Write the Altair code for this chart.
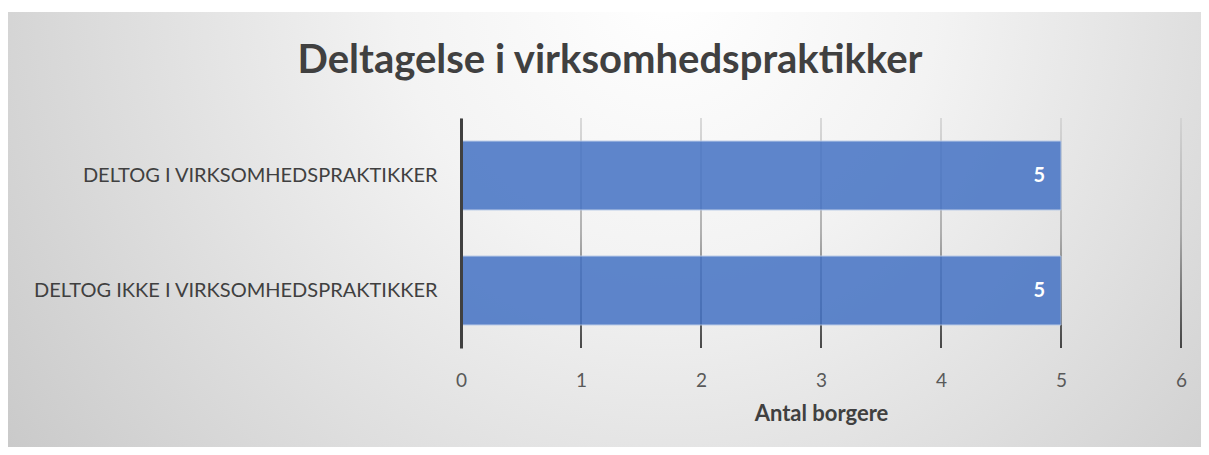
import altair as alt
import pandas as pd

categories = ["DELTOG I VIRKSOMHEDSPRAKTIKKER", "DELTOG IKKE I VIRKSOMHEDSPRAKTIKKER"]
values = [5, 5]
x_ticks = [0, 1, 2, 3, 4, 5, 6]

bars_df = pd.DataFrame({"cat": categories, "value": values})
grid_df = pd.DataFrame({"v": x_ticks})

FONT = "Lato"

x_scale = alt.Scale(domain=[0, 6], nice=False)
y_scale = alt.Scale(paddingInner=0.4, paddingOuter=0.2)

bg = alt.Chart(pd.DataFrame({"a": [0]})).mark_rect(
    color=alt.RadialGradient(
        gradient="radial",
        x1=0.55, y1=0.3, r1=0,
        x2=0.55, y2=0.3, r2=0.75,
        stops=[
            alt.GradientStop(color="#ffffff", offset=0),
            alt.GradientStop(color="#f3f3f3", offset=0.3),
            alt.GradientStop(color="#c2c2c2", offset=1),
        ],
    )
).encode(
    x=alt.value(-455), x2=alt.value(748), y=alt.value(-106), y2=alt.value(335)
)

grid = alt.Chart(grid_df).transform_calculate(
    v2="datum.v + 0.0125"
).mark_rect(
    xOffset=-0.75, x2Offset=-0.75,
    color=alt.LinearGradient(
        gradient="linear", x1=0, y1=0, x2=0, y2=1,
        stops=[
            alt.GradientStop(color="#d0d0d0", offset=0),
            alt.GradientStop(color="#9a9a9a", offset=0.5),
            alt.GradientStop(color="#111111", offset=1),
        ],
    ),
).encode(
    x=alt.X("v:Q", scale=x_scale),
    x2="v2:Q",
    y=alt.value(0),
    y2=alt.value("height"),
)

bars = alt.Chart(bars_df).mark_bar(
    color="#4472C4", opacity=0.85, stroke="#b4c7e7", strokeWidth=1
).encode(
    x=alt.X("value:Q", scale=x_scale,
            axis=alt.Axis(values=x_ticks, format="d", grid=False, ticks=False, domain=False,
                          labelFlush=False,
                          labelFont=FONT, labelFontSize=19, labelColor="#595959",
                          labelPadding=23, title="Antal borgere", titleFont=FONT,
                          titleFontSize=22, titleFontWeight="bold", titleColor="#404040",
                          titlePadding=13, zindex=1)),
    y=alt.Y("cat:N", sort=None, scale=y_scale,
            axis=alt.Axis(title=None, ticks=False, domain=True, domainColor="#404040",
                          domainWidth=3, labelFont=FONT, labelFontSize=20,
                          labelColor="#404040", labelPadding=24, labelLimit=1000, zindex=1)),
)

labels = alt.Chart(bars_df).mark_text(
    align="right", baseline="middle", dx=-16, color="white",
    font=FONT, fontSize=20, fontWeight="bold"
).encode(
    x=alt.X("value:Q", scale=x_scale),
    y=alt.Y("cat:N", sort=None, scale=y_scale),
    text="value:Q",
)

chart = alt.layer(bg, grid, bars, labels).properties(
    width=720,
    height=230,
    padding={"left": 453, "top": 110, "right": 20, "bottom": 99},
    autosize=alt.AutoSizeParams(type="none"),
    title=alt.TitleParams(
        "Deltagelse i virksomhedspraktikker",
        font=FONT, fontSize=40, fontWeight="bold", color="#404040",
        anchor="middle", frame="group", baseline="alphabetic", offset=-101, dx=-211,
    ),
).configure_view(stroke=None).configure(background="white")

chart.save("out.html", embed_options={"renderer": "svg", "actions": False})
